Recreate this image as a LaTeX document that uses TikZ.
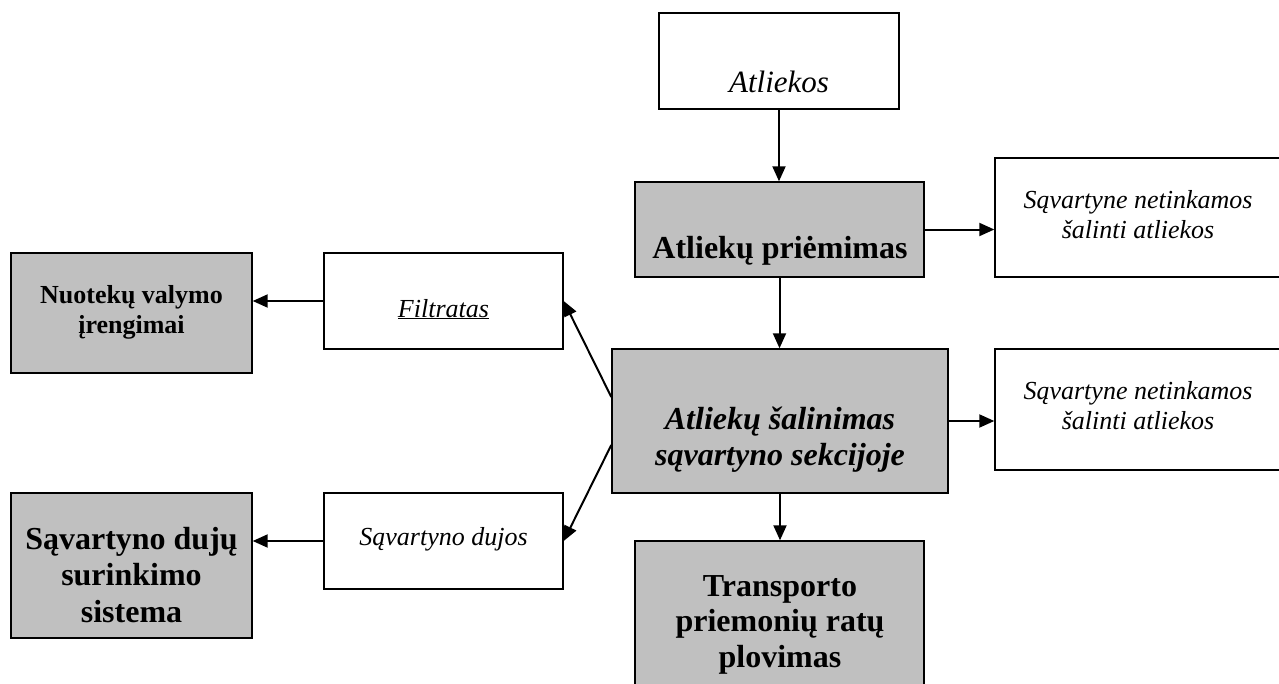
\documentclass[tikz,border=0pt]{standalone}
\usepackage{fontspec}
\setmainfont{Liberation Serif}
\usetikzlibrary{arrows.meta,calc}
\definecolor{boxgray}{RGB}{192,192,192}
\tikzset{
  box/.style={draw=black, line width=1.4pt, fill=white, inner sep=0pt},
  graybox/.style={box, fill=boxgray},
  arr/.style={line width=2pt, -{Triangle[length=15pt,width=13pt]}},
  txt/.style={anchor=base, inner sep=0pt, align=center},
  bigb/.style={txt, font=\fontsize{32}{36.5}\selectfont\bfseries},
  smalli/.style={txt, font=\fontsize{26}{30}\selectfont\itshape},
}
\begin{document}
\begin{tikzpicture}[x=1pt,y=-1pt]
\useasboundingbox (0,0) rectangle (1279,683);
\clip (0,0) rectangle (1279,683);
% boxes
\node[box, minimum width=240pt, minimum height=96pt] (A) at (779,61) {};
\node[graybox, minimum width=289pt, minimum height=95pt] (P) at (779.5,229.5) {};
\node[box, minimum width=295pt, minimum height=119pt] (R1) at (1142.5,217.5) {};
\node[graybox, minimum width=336pt, minimum height=144pt] (S) at (780,421) {};
\node[box, minimum width=295pt, minimum height=121pt] (R2) at (1142.5,409.5) {};
\node[box, minimum width=239pt, minimum height=96pt] (F) at (443.5,301) {};
\node[graybox, minimum width=241pt, minimum height=120pt] (N) at (131.5,313) {};
\node[box, minimum width=239pt, minimum height=96pt] (D) at (443.5,541) {};
\node[graybox, minimum width=241pt, minimum height=145pt] (G) at (131.5,565.5) {};
\node[graybox, minimum width=289pt, minimum height=159pt] (T) at (779.5,620.5) {};
% texts (anchor base = baseline of the last line)
\node[txt, font=\fontsize{31}{35}\selectfont\itshape] (tA) at (779,92) {Atliekos};
\node[bigb] (tP) at (780,258) {Atliekų priėmimas};
\node[smalli] (tR1) at (1138,238) {Sąvartyne netinkamos\\šalinti atliekos};
\node[bigb, font=\fontsize{32}{36}\selectfont\bfseries\itshape] (tS) at (780,465) {Atliekų šalinimas\\sąvartyno sekcijoje};
\node[smalli] (tR2) at (1138,429) {Sąvartyne netinkamos\\šalinti atliekos};
\node[smalli] (tF) at (443.5,317) {\underline{Filtratas}};
\node[txt, font=\fontsize{26}{30}\selectfont\bfseries] (tN) at (131.5,333) {Nuotekų valymo\\įrengimai};
\node[smalli] (tD) at (443.5,545) {Sąvartyno dujos};
\node[bigb] (tG) at (131.5,622) {Sąvartyno dujų\\surinkimo\\sistema};
\node[bigb, font=\fontsize{32}{35.5}\selectfont\bfseries] (tT) at (780,667) {Transporto\\priemonių ratų\\plovimas};
% connectors
\draw[arr] (A.south) -- (A.south |- P.north);
\draw[arr] (P.south) -- (P.south |- S.north);
\draw[arr] (S.south) -- (S.south |- T.north);
\draw[arr] (P.east) -- (P.east -| R1.west);
\draw[arr] (S.east) -- (S.east -| R2.west);
\draw[arr] (F.west) -- (F.west -| N.east);
\draw[arr] (D.west) -- (D.west -| G.east);
\draw[arr] ([yshift=24pt]S.west) -- (F.east);
\draw[arr] ([yshift=-24pt]S.west) -- (D.east);
\end{tikzpicture}
\end{document}
